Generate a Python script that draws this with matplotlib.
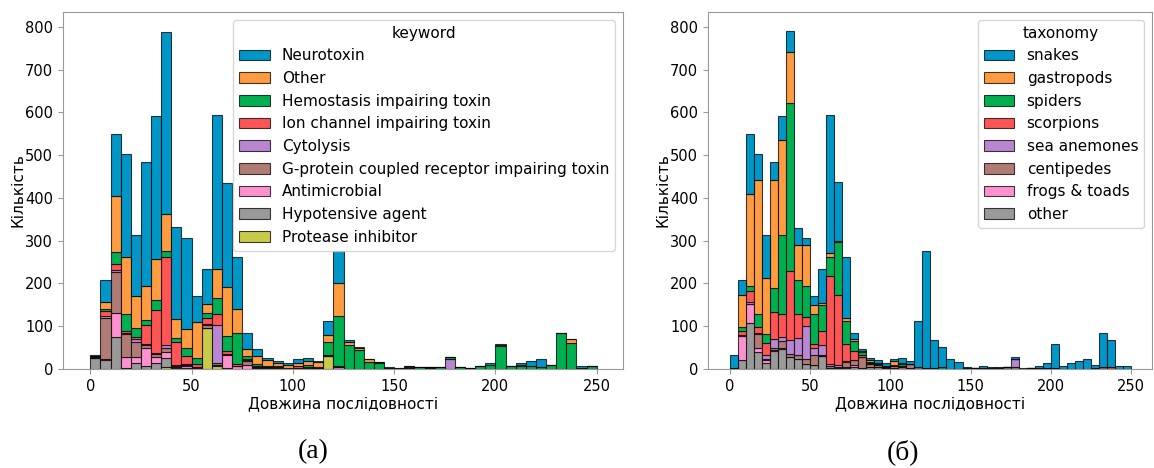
import numpy as np
import matplotlib.pyplot as plt

plt.rcParams['font.family'] = 'DejaVu Sans'
plt.rcParams['font.size'] = 11
plt.rcParams['xtick.labelsize'] = 10.5
plt.rcParams['ytick.labelsize'] = 10.5

# bins of width 5 covering sequence lengths 0..250
bin_left = np.arange(0, 250, 5)
bin_width = 5


def pad(vals):
    out = np.zeros(50)
    out[:len(vals)] = vals
    return out


# ---- keyword counts per bin ----
kw_neuro = pad([3, 50, 144, 242, 143, 292, 333, 425, 215, 213, 60, 82, 362, 245, 121, 37, 16, 5, 4, 4,
                8, 8, 2, 32, 75, 5, 3, 0, 0, 2, 0, 0, 0, 0, 0, 2, 0, 0, 0, 4,
                1, 0, 5, 11, 19, 0, 0, 0, 3, 0])
kw_other = pad([0, 17, 132, 133, 74, 78, 97, 86, 43, 44, 86, 23, 68, 113, 56, 17, 19, 14, 8, 6,
                7, 9, 12, 18, 78, 7, 5, 6, 2, 0, 1, 2, 0, 0, 0, 0, 0, 0, 0, 0,
                3, 0, 2, 0, 0, 0, 0, 9, 0, 0])
kw_hemo = pad([0, 4, 27, 39, 23, 13, 22, 16, 9, 18, 14, 10, 37, 35, 73, 6, 5, 3, 3, 2,
               2, 4, 2, 29, 118, 56, 44, 17, 14, 2, 1, 2, 4, 3, 4, 4, 4, 3, 6, 10,
               54, 7, 7, 8, 4, 10, 85, 61, 3, 7])
kw_ion = pad([2, 13, 14, 6, 4, 44, 102, 204, 55, 19, 6, 14, 25, 8, 3, 4, 2, 0, 2, 0,
              3, 2, 0, 0, 2])
kw_cyto = pad([0, 4, 6, 1, 8, 2, 3, 7, 2, 2, 1, 2, 88, 0, 0, 2, 0, 0, 2, 1,
               3, 3, 0, 0, 0, 0, 0, 0, 0, 0, 0, 0, 0, 2, 0, 23])
kw_gpcr = pad([3, 95, 96, 56, 33, 8, 5, 11, 3, 2, 1, 7, 6, 2, 2, 8, 2, 2, 0, 0,
               0, 0, 2, 2, 0, 0, 0, 0, 0, 0, 0, 2, 0, 0, 0, 0, 0, 0, 0, 0,
               0, 0, 0, 0, 1])
kw_amp = pad([0, 2, 55, 24, 16, 42, 15, 13, 2, 6, 3, 0, 0, 30, 6, 10, 3, 2, 0, 0,
              0, 0, 0, 0, 4])
kw_hypo = pad([25, 22, 75, 0, 13, 5, 14, 22, 2, 2, 0, 0, 2])
kw_prot = pad([0, 0, 0, 3, 0, 1, 0, 4, 0, 0, 0, 97, 7, 3, 0, 0, 0, 0, 0, 0,
               0, 0, 0, 31])

kw_labels = ['Neurotoxin', 'Other', 'Hemostasis impairing toxin', 'Ion channel impairing toxin',
             'Cytolysis', 'G-protein coupled receptor impairing toxin', 'Antimicrobial',
             'Hypotensive agent', 'Protease inhibitor']
kw_counts = [kw_neuro, kw_other, kw_hemo, kw_ion, kw_cyto, kw_gpcr, kw_amp, kw_hypo, kw_prot]

# ---- taxonomy counts per bin ----
tx_snakes = pad([31, 34, 140, 61, 100, 41, 55, 49, 41, 17, 21, 80, 324, 137, 144, 14, 6, 5, 5, 6,
                 4, 13, 6, 107, 275, 65, 48, 23, 15, 2, 0, 4, 2, 2, 0, 6, 3, 0, 3, 10,
                 56, 8, 14, 19, 22, 7, 80, 64, 5, 7])
tx_gastro = pad([0, 74, 215, 314, 131, 253, 222, 119, 82, 94, 21, 5, 8, 3, 7, 4, 2, 4, 2, 0,
                 9, 1, 0, 1])
tx_spiders = pad([0, 9, 13, 31, 23, 57, 185, 394, 79, 74, 71, 59, 45, 125, 54, 25, 6, 2, 2, 0,
                  3, 6, 0, 0, 0, 0, 4, 0, 0, 0, 0, 0, 0, 0, 0, 0, 0, 0, 0, 0,
                  2])
tx_scorp = pad([2, 10, 26, 13, 27, 63, 53, 161, 56, 20, 10, 34, 206, 163, 40, 21, 5, 3, 2, 2,
                4, 2, 0, 0, 0, 0, 0, 0, 0, 0, 0, 0, 0, 0, 0, 0, 0, 0, 0, 0,
                0, 0, 0, 0, 0, 0, 0, 4])
tx_anem = pad([0, 2, 5, 2, 10, 21, 10, 33, 39, 78, 15, 23, 4, 4, 2, 0, 0, 0, 0, 0,
               0, 0, 0, 0, 0, 0, 0, 0, 0, 0, 0, 0, 0, 0, 0, 19])
tx_centi = pad([0, 0, 0, 35, 2, 4, 18, 6, 10, 11, 24, 2, 5, 3, 11, 10, 25, 8, 5, 3,
                2, 4, 10, 4, 0, 3, 0, 0, 0, 2, 2, 0, 2, 0, 4, 0, 0, 3, 0, 0,
                0, 0, 0, 0, 1])
tx_frogs = pad([0, 58, 44, 8, 6, 3, 1, 0, 0, 0, 0, 0, 0, 0, 2, 5])
tx_other = pad([0, 20, 107, 40, 15, 42, 47, 29, 23, 12, 9, 31, 3, 2, 3, 5, 3, 4, 4, 2,
                1, 0, 2, 0, 2, 0, 0, 0, 1, 0, 0, 2, 0, 3, 0, 4, 0, 0, 3, 3,
                0, 0, 0, 0, 0, 3, 4, 0, 1, 0])

tx_labels = ['snakes', 'gastropods', 'spiders', 'scorpions', 'sea anemones', 'centipedes',
             'frogs & toads', 'other']
tx_counts = [tx_snakes, tx_gastro, tx_spiders, tx_scorp, tx_anem, tx_centi, tx_frogs, tx_other]

palette = ['#0096c8', '#ff9b40', '#00b050', '#ff5555', '#b987d1',
           '#b07b75', '#ff91d0', '#9a9a9a', '#c8cb4a']


def stacked_hist(ax, counts, labels, title):
    # first label sits on top, so stack from the last one upwards
    bottom = np.zeros(len(bin_left))
    handles = [None] * len(labels)
    for i in range(len(labels) - 1, -1, -1):
        h = ax.bar(bin_left, counts[i], width=bin_width, bottom=bottom, align='edge',
                   color=palette[i], edgecolor=(0, 0, 0, 0.75), linewidth=0.8,
                   label=labels[i])
        handles[i] = h
        bottom = bottom + counts[i]
    ax.legend(handles, labels, title=title, loc='upper right', fontsize=11,
              title_fontsize=11)
    ax.set_xlabel('Довжина послідовності', labelpad=2)
    ax.set_ylabel('Кількість', labelpad=0)
    ax.set_xticks([0, 50, 100, 150, 200, 250])
    ax.set_yticks(range(0, 900, 100))
    ax.set_xlim(-13.5, 263)
    ax.set_ylim(0, 835)
    for s in ax.spines.values():
        s.set_color('#999999')
    ax.tick_params(color='#999999')


fig = plt.figure(figsize=(11.54, 4.68), dpi=100)
ax1 = fig.add_axes([63 / 1154, 99 / 468, 560 / 1154, 357 / 468])
ax2 = fig.add_axes([708 / 1154, 99 / 468, 444 / 1154, 357 / 468])

stacked_hist(ax1, kw_counts, kw_labels, 'keyword')
stacked_hist(ax2, tx_counts, tx_labels, 'taxonomy')

fig.text(313 / 1154, 1 - 452 / 468, '(a)', family='Liberation Serif', fontsize=20,
         ha='center', va='center')
fig.text(903 / 1154, 1 - 452 / 468, '(б)', family='Liberation Serif', fontsize=20,
         ha='center', va='center')

fig.savefig('out.png', dpi=100)
